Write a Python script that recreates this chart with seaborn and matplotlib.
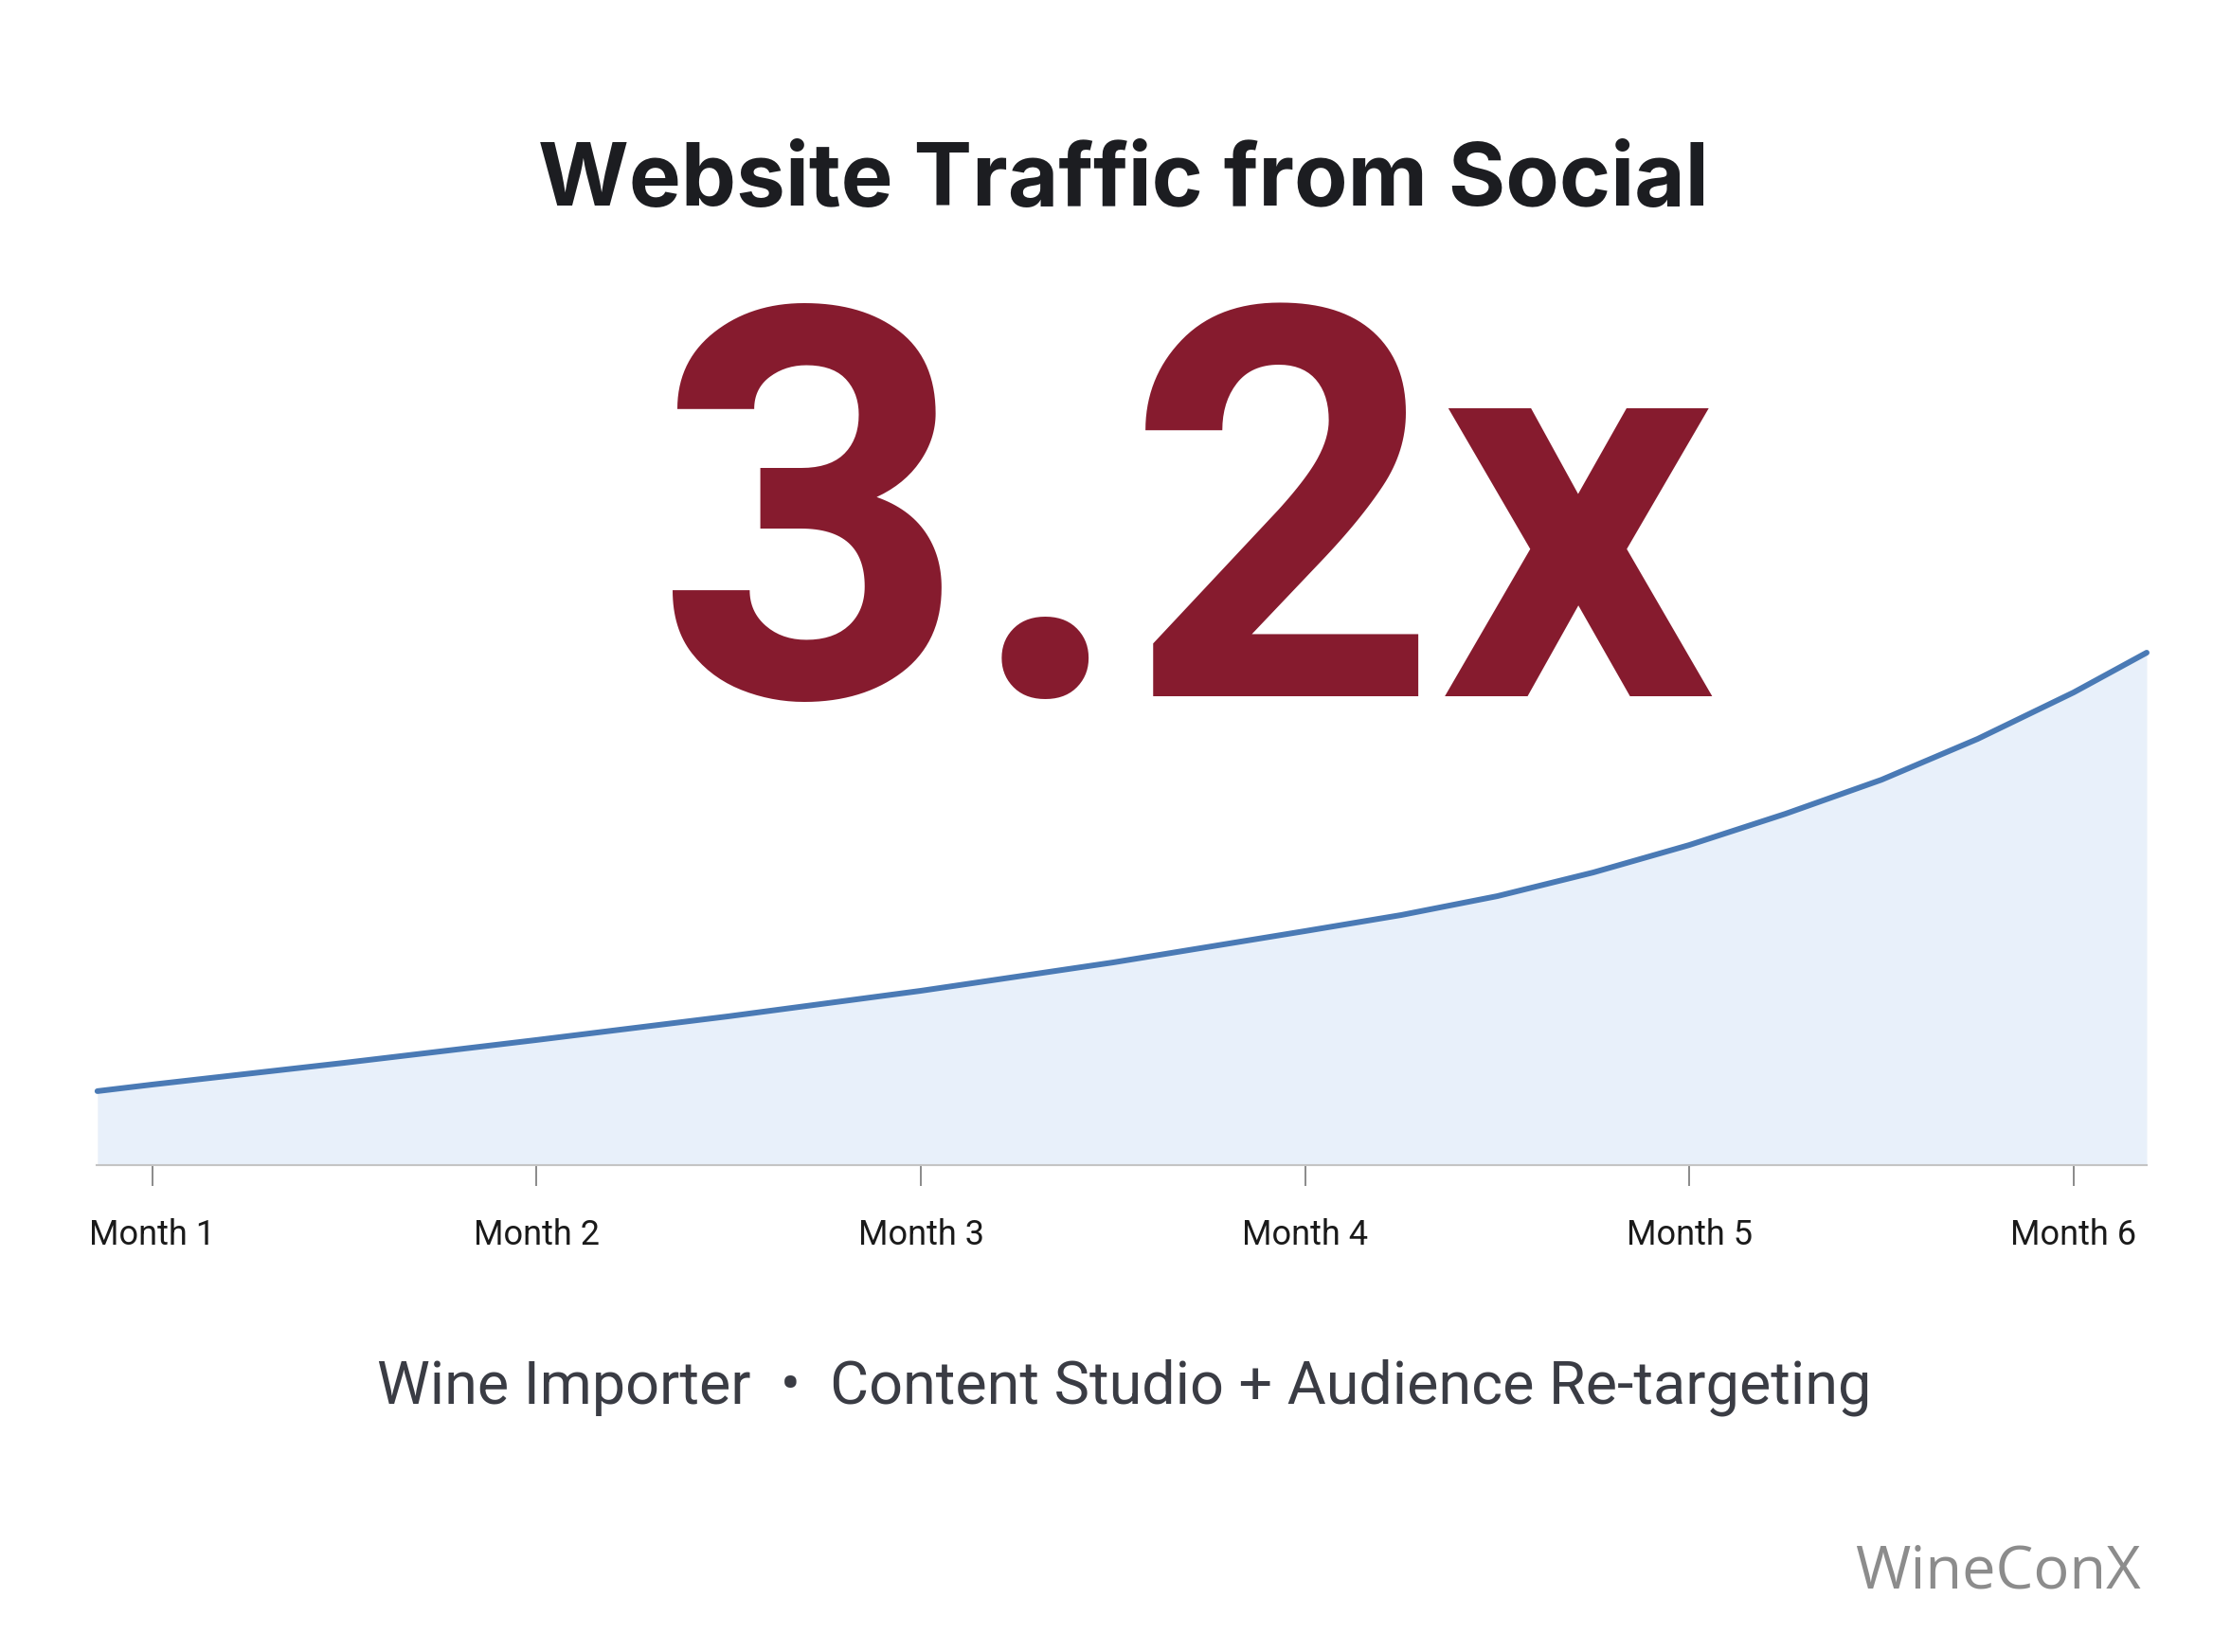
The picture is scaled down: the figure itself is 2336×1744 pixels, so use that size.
import seaborn as sns
import matplotlib.pyplot as plt
import pandas as pd

# Traffic index (Month 1 = 1.0), including the two edge points
month_pos = [0.857, 1.0, 1.5, 2.0, 2.5, 3.0, 3.5, 4.0, 4.25, 4.5, 4.75,
             5.0, 5.25, 5.5, 5.75, 6.0, 6.19]
traffic_index = [0.963, 1.000, 1.122, 1.250, 1.383, 1.526, 1.685, 1.861, 1.951,
                 2.057, 2.190, 2.344, 2.519, 2.710, 2.939, 3.200, 3.423]
tick_months = [1, 2, 3, 4, 5, 6]
tick_labels = ['Month 1', 'Month 2', 'Month 3', 'Month 4', 'Month 5', 'Month 6']

title = 'Website Traffic from Social'
big_number = '3.2x'
subtitle = 'Wine Importer  •  Content Studio + Audience Re-targeting'
brand = 'WineConX'

df = pd.DataFrame({'month': month_pos, 'traffic': traffic_index})

sns.set_style('white')
plt.rcParams['font.family'] = ['Roboto', 'DejaVu Sans']

W, H = 2336, 1744
fig = plt.figure(figsize=(W / 100, H / 100), dpi=100)
fig.patch.set_facecolor('white')

# axes placed in pixel terms: x 102..2266, bottom at 1230, top at 600
ax = fig.add_axes([102 / W, 1 - 1230 / H, (2266 - 102) / W, (1230 - 600) / H])

ax.fill_between(df['month'], 0, df['traffic'], color='#e8f0fa', linewidth=0, zorder=1)
sns.lineplot(data=df, x='month', y='traffic', ax=ax, color='#4a7ab5',
             linewidth=4.3, zorder=3)
for ln in ax.lines:
    ln.set_solid_capstyle('round')
    ln.set_solid_joinstyle('round')
    ln.set_clip_on(False)

ax.set_xlim(0.855, 6.19)
ax.set_ylim(0.548, 3.896)
ax.set_xlabel('')
ax.set_ylabel('')
ax.set_yticks([])
ax.set_xticks(tick_months)
ax.set_xticklabels(tick_labels, fontsize=26, color='#1a1a1a')
ax.tick_params(axis='x', direction='out', length=16, width=1.1,
               color='#6b6b6b', pad=24, bottom=True)
for side in ['top', 'right', 'left']:
    ax.spines[side].set_visible(False)
ax.spines['bottom'].set_color('#c4c4c4')
ax.spines['bottom'].set_linewidth(1.5)
ax.set_facecolor('none')

# headline texts
fig.text(1186 / W, 1 - 217 / H, title, ha='center', va='baseline',
         fontsize=66.5, fontweight='bold', color='#1c1d21',
         family=['Inter', 'Liberation Sans', 'DejaVu Sans'])
fig.text(1252 / W, 1 - 735 / H, big_number, ha='center', va='baseline',
         fontsize=414, fontweight='bold', color='#861b2e',
         family=['Roboto', 'Liberation Sans', 'DejaVu Sans'])
fig.text(1187 / W, 1 - 1481 / H, subtitle, ha='center', va='baseline',
         fontsize=45.3, color='#3a3c44')
fig.text(2260 / W, 1 - 1676 / H, brand, ha='right', va='baseline',
         fontsize=45.5, color='#8c8c8c', family=['Open Sans', 'DejaVu Sans'])

fig.savefig('out.png', dpi=100, facecolor='white')
